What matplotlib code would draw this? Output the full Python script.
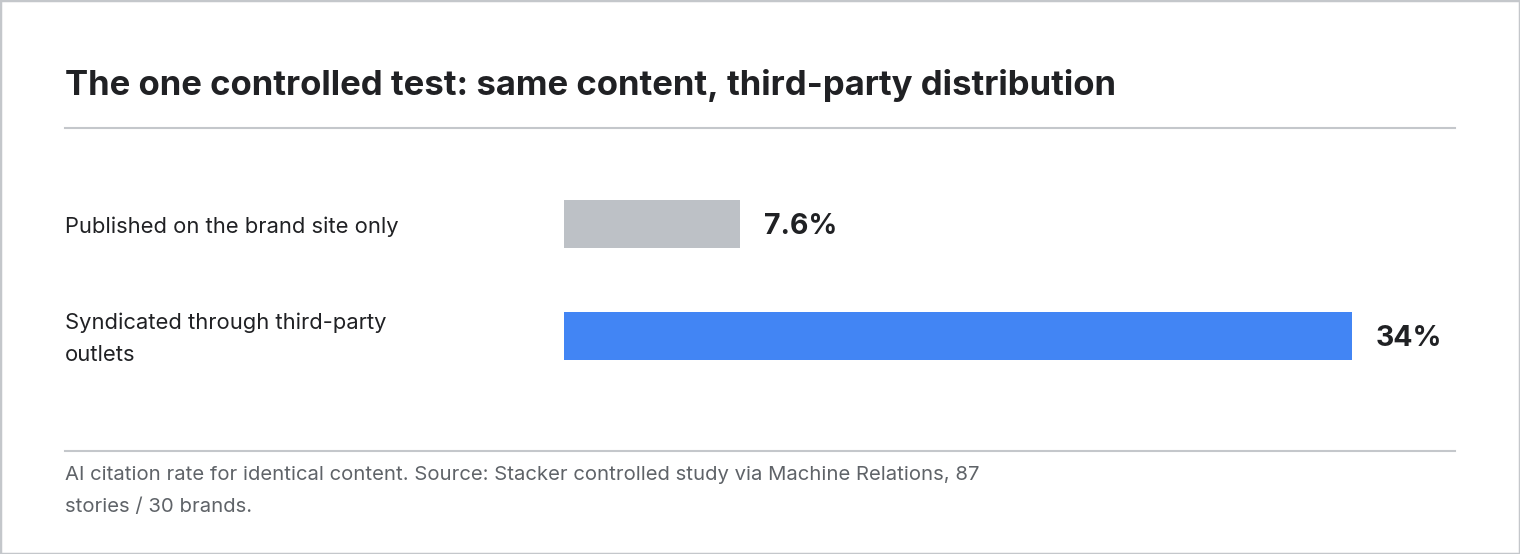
import matplotlib.pyplot as plt
import matplotlib.transforms as mtransforms
from matplotlib.patches import Rectangle
import numpy as np

plt.rcParams['font.family'] = ['Inter', 'DejaVu Sans']

title = "The one controlled test: same content, third-party distribution"
categories = ["Published on the brand site only", "Syndicated through third-party\noutlets"]
values = [7.6, 34]
value_labels = ["7.6%", "34%"]
bar_colors = ["#bdc1c6", "#4285f4"]
footnote = ("AI citation rate for identical content. Source: Stacker controlled study via Machine Relations, 87\n"
            "stories / 30 brands.")

W, H = 1520, 554
fig = plt.figure(figsize=(W / 100, H / 100), dpi=100)
fig.patch.set_facecolor("white")

def fx(px):
    return px / W

def fy(py):
    return 1 - py / H

# outer border
fig.patches.append(Rectangle((0, 0), 1, 1, transform=fig.transFigure, fill=False,
                             edgecolor="#c4c7cb", linewidth=2.5))

fig.text(fx(65), fy(86), title, fontsize=25, fontweight="bold", color="#202124",
         va="center", ha="left")
fig.add_artist(plt.Line2D([fx(65), fx(1455)], [fy(128), fy(128)], color="#c4c7cb", lw=1.5))
fig.add_artist(plt.Line2D([fx(65), fx(1455)], [fy(451), fy(451)], color="#c4c7cb", lw=1.5))

ax = fig.add_axes([fx(564), fy(392), fx(1455) - fx(564), (392 - 168) / H])
ypos = np.arange(len(values))
ax.barh(ypos, values, height=48 / 112, color=bar_colors)
xmax = max(values) * 891 / 788
ax.set_xlim(0, xmax)
ax.set_ylim(1.5, -0.5)
ax.axis("off")

pad = xmax * 24 / 891
val_trans = mtransforms.offset_copy(ax.transData, fig=fig, y=-3, units="dots")
for y, v, lab in zip(ypos, values, value_labels):
    ax.text(v + pad, y, lab, transform=val_trans, fontsize=20.5, fontweight="bold",
            color="#202124", va="center", ha="left")

trans = mtransforms.blended_transform_factory(fig.transFigure, ax.transData)
trans = mtransforms.offset_copy(trans, fig=fig, y=-3, units="dots")
for y, cat in zip(ypos, categories):
    ax.text(fx(65), y, cat, transform=trans, fontsize=15.8, color="#202124",
            va="center", ha="left", linespacing=1.77)

fig.text(fx(65), fy(491), footnote, fontsize=14.6, color="#5f6368", va="center",
         ha="left", linespacing=2.0)

fig.savefig("out.png", dpi=100)
